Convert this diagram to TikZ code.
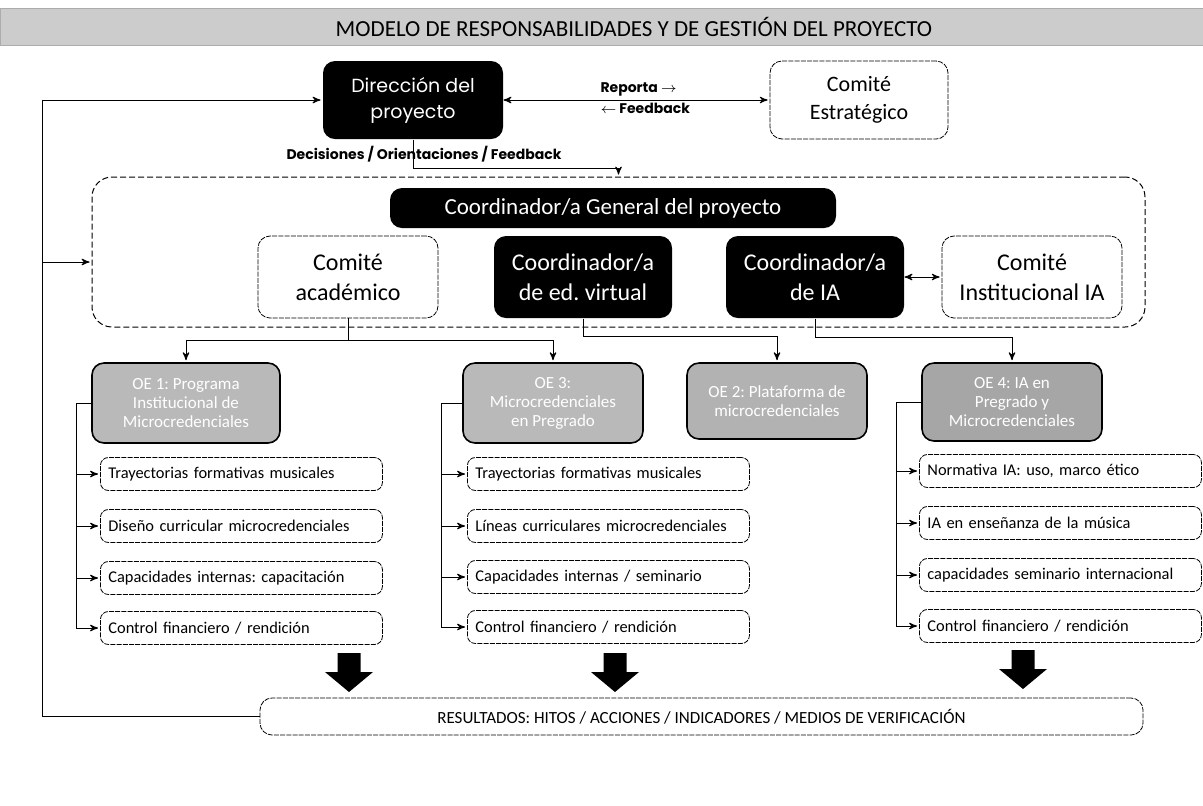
\documentclass[tikz,border=0pt]{standalone}
\usepackage{fontspec}
\setmainfont{Carlito}
\newfontfamily\gothic{Poppins}
\usetikzlibrary{arrows,positioning}
\frenchspacing

\begin{document}
\begin{tikzpicture}[x=0.5pt,y=-0.5pt,>=stealth',shorten >=1pt,line width=0.5pt,
  blackbox/.style={rectangle,rounded corners=6pt,fill=black,text=white,align=center,inner sep=2pt},
  whitebox/.style={rectangle,rounded corners=6pt,draw,line width=0.4pt,dash pattern=on 2.5pt off 0.6pt,fill=white,align=center,inner sep=2pt},
  oebox/.style={rectangle,rounded corners=6pt,draw,line width=0.8pt,fill=gray!55,text=white,align=center,inner sep=2pt,minimum width=90pt,minimum height=40pt,font=\fontsize{8.5}{9.5}\selectfont},
  subbox/.style={rectangle,rounded corners=4pt,draw,line width=0.4pt,dash pattern=on 2.5pt off 0.6pt,anchor=west,inner xsep=4pt,text width=133pt,minimum height=16.5pt,align=left,font=\fontsize{8.2}{9.5}\selectfont},
  bold/.style={font=\gothic\bfseries\fontsize{7}{8}\selectfont,inner sep=1pt}]

\useasboundingbox (0,0) rectangle (1203,805);

\node[fill=gray!40,draw=gray!65,minimum width=601.5pt,minimum height=18.5pt,inner sep=0] (band) at (601.5,26.5) {};
\node[font=\fontsize{11.5}{13}\selectfont] (title) at (634,27) {MODELO DE RESPONSABILIDADES Y DE GESTIÓN DEL PROYECTO};

\node[blackbox,minimum width=90pt,minimum height=39pt,font=\gothic\fontsize{9.5}{13}\selectfont] (dir) at (413,100) {Dirección del\\proyecto};
\node[whitebox,minimum width=89pt,minimum height=39pt,font=\fontsize{11}{14}\selectfont] (ce) at (859,100) {Comité\\Estratégico};
\node[bold,anchor=south west] (rep) at (598,99) {Reporta $\rightarrow$};
\node[bold,anchor=north west] (fb) at (598,101) {$\leftarrow$ Feedback};
\node[bold] (dec) at (424,154) {Decisiones / Orientaciones / Feedback};

\node[draw,dash pattern=on 3pt off 1.5pt,rounded corners=10pt,minimum width=526.5pt,minimum height=75pt] (cont) at (618.5,252) {};
\node[blackbox,minimum width=223pt,minimum height=20pt,font=\fontsize{11.5}{13}\selectfont] (cg) at (613,208) {Coordinador/a General del proyecto};
\node[whitebox,minimum width=90pt,minimum height=41pt,font=\fontsize{12}{15}\selectfont] (ca) at (348,277) {Comité\\académico};
\node[blackbox,minimum width=89pt,minimum height=41pt,font=\fontsize{12}{15}\selectfont] (cev) at (583,277) {Coordinador/a\\de ed. virtual};
\node[blackbox,minimum width=89pt,minimum height=41pt,font=\fontsize{12}{15}\selectfont] (cia) at (815,277) {Coordinador/a\\de IA};
\node[whitebox,minimum width=90pt,minimum height=41pt,font=\fontsize{12}{15}\selectfont] (cii) at (1032,277) {Comité\\Institucional IA};

\node[oebox,minimum width=94pt] (oe1) at (186,403) {OE 1: Programa\\Institucional de\\Microcredenciales};
\node[oebox] (oe3) at (553,403) {OE 3:\\Microcredenciales\\en Pregrado};
\node[oebox,minimum height=38pt,fill=gray!60] (oe2) at (777,401) {OE 2: Plataforma de\\microcredenciales};
\node[oebox,minimum height=39pt,fill=gray!70] (oe4) at (1012,402) {OE 4: IA en\\Pregrado y\\Microcredenciales};

\node[subbox] (a1) at (100,474) {Trayectorias formativas musicales};
\node[subbox] (a2) at (100,526) {Diseño curricular microcredenciales};
\node[subbox] (a3) at (100,578) {Capacidades internas: capacitación};
\node[subbox] (a4) at (100,628) {Control financiero / rendición};

\node[subbox] (b1) at (467,474) {Trayectorias formativas musicales};
\node[subbox] (b2) at (467,526) {Líneas curriculares microcredenciales};
\node[subbox] (b3) at (467,577) {Capacidades internas / seminario};
\node[subbox] (b4) at (467,627) {Control financiero / rendición};

\node[subbox] (c1) at (919,471) {Normativa IA: uso, marco ético};
\node[subbox] (c2) at (919,523) {IA en enseñanza de la música};
\node[subbox] (c3) at (919,575) {capacidades seminario internacional};
\node[subbox] (c4) at (919,626) {Control financiero / rendición};

\node[whitebox,minimum width=441.5pt,minimum height=18.5pt,font=\fontsize{8.5}{10}\selectfont] (res) at (701.5,716.5) {RESULTADOS: HITOS / ACCIONES / INDICADORES / MEDIOS DE VERIFICACIÓN};

\coordinate (lp) at (42,100);
\coordinate (lb) at (42,262);

\draw[<->] (dir) -- (ce);
\draw[->] (res.west) -| (lp) -- (dir.west);
\draw[->] (lb) -- (lb -| cont.west);
\draw[->] (dir.south) -- ++(0,29) -| (cont.north);
\draw[<->] (cia) -- (cii);

\draw[->] (ca.south) -- ++(0,22) -| (oe1.north);
\draw[->] (ca.south) -- ++(0,22) -| (oe3.north);
\draw[->] (cev.south) -- ++(0,18) -| (oe2.north);
\draw[->] (cia.south) -- ++(0,19) -| (oe4.north);

\draw[->] (oe1.west) -- ++(-15,0) |- (a1.west);
\draw[->] (oe1.west) -- ++(-15,0) |- (a2.west);
\draw[->] (oe1.west) -- ++(-15,0) |- (a3.west);
\draw[->] (oe1.west) -- ++(-15,0) |- (a4.west);
\draw[->] (oe3.west) -- ++(-21,0) |- (b1.west);
\draw[->] (oe3.west) -- ++(-21,0) |- (b2.west);
\draw[->] (oe3.west) -- ++(-21,0) |- (b3.west);
\draw[->] (oe3.west) -- ++(-21,0) |- (b4.west);
\draw[->] (oe4.west) -- ++(-25,0) |- (c1.west);
\draw[->] (oe4.west) -- ++(-25,0) |- (c2.west);
\draw[->] (oe4.west) -- ++(-25,0) |- (c3.west);
\draw[->] (oe4.west) -- ++(-25,0) |- (c4.west);

\fill (349,653) ++(-11.5,0) -- ++(23,0) -- ++(0,19) -- ++(12.5,0) -- ++(-24,20) -- ++(-24,-20) -- ++(12.5,0) -- cycle;
\fill (615,653) ++(-11.5,0) -- ++(23,0) -- ++(0,19) -- ++(12.5,0) -- ++(-24,20) -- ++(-24,-20) -- ++(12.5,0) -- cycle;
\fill (1023,650) ++(-11.5,0) -- ++(23,0) -- ++(0,19) -- ++(12.5,0) -- ++(-24,20) -- ++(-24,-20) -- ++(12.5,0) -- cycle;

\end{tikzpicture}
\end{document}
